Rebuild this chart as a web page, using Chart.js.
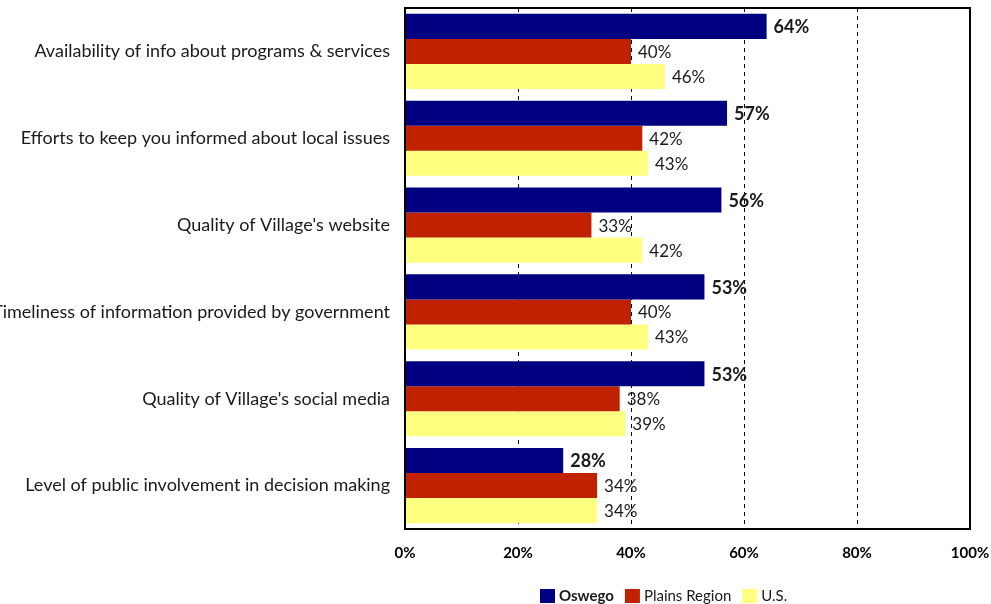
<html>
<head>
<meta charset="utf8">
<title>Communication ratings</title>
<script src="https://cdn.jsdelivr.net/npm/chart.js@4.4.0/dist/chart.umd.min.js"></script>
<style>
    body{margin:0;background:#fff}
    .box{width:991px;height:604px;position:relative}
</style>
</head>
<body>
<div class="box"><canvas id="RatingChart"></canvas></div>
<script>
var categories = [
    "Availability of info about programs & services",
    "Efforts to keep you informed about local issues",
    "Quality of Village's website",
    "Timeliness of information provided by government",
    "Quality of Village's social media",
    "Level of public involvement in decision making"
];
var oswego = [64, 57, 56, 53, 53, 28];
var plains = [40, 42, 33, 40, 38, 34];
var us = [46, 43, 42, 43, 39, 34];
var xTicks = [0, 20, 40, 60, 80, 100];

var FONT = "Lato";

// value labels at the end of each bar
var barLabels = {
    id: 'barLabels',
    afterDatasetsDraw: function(chart){
        var ctx = chart.ctx;
        ctx.save();
        chart.data.datasets.forEach(function(ds, i){
            var meta = chart.getDatasetMeta(i);
            meta.data.forEach(function(bar, j){
                ctx.font = (i == 0 ? "bold 18px " : "17px ") + FONT;
                ctx.fillStyle = "#1a1a1a";
                ctx.textAlign = "left";
                ctx.textBaseline = "middle";
                ctx.fillText(ds.data[j] + "%", bar.x + 7, bar.y + 1);
            });
        });
        ctx.restore();
    }
};

// frame round the plot + legend under the axis
var frameLegend = {
    id: 'frameLegend',
    afterDraw: function(chart){
        var ctx = chart.ctx;
        var a = chart.chartArea;
        ctx.save();
        ctx.strokeStyle = "#000";
        ctx.lineWidth = 2;
        ctx.strokeRect(a.left, a.top, a.right - a.left, a.bottom - a.top);

        var x = 540, y = 596;
        ctx.textBaseline = "middle";
        ctx.textAlign = "left";
        chart.data.datasets.forEach(function(ds, i){
            ctx.fillStyle = ds.backgroundColor;
            ctx.fillRect(x, y - 7, 15, 14);
            ctx.font = (i == 0 ? "bold 15px " : "15px ") + FONT;
            ctx.fillStyle = "#1a1a1a";
            ctx.fillText(ds.label, x + 19, y);
            x += 19 + ctx.measureText(ds.label).width + 11;
        });
        ctx.restore();
    }
};

window.onload = function(){
    new Chart(document.getElementById("RatingChart"), {
        type: 'bar',
        data: {
            labels: categories,
            datasets: [{
                label: "Oswego",
                data: oswego,
                backgroundColor: "#000080"
            },
            {
                label: "Plains Region",
                data: plains,
                backgroundColor: "#C02200"
            },
            {
                label: "U.S.",
                data: us,
                backgroundColor: "#FFFF80"
            }]
        },
        options: {
            indexAxis: 'y',
            responsive: true,
            maintainAspectRatio: false,
            animation: false,
            layout: {padding: {left: 0, right: 21, top: 8, bottom: 0}},
            datasets: {bar: {categoryPercentage: 0.865, barPercentage: 1}},
            plugins: {
                legend: {display: false},
                tooltip: {enabled: false}
            },
            scales: {
                x: {
                    min: 0,
                    max: 100,
                    afterFit: function(s){
                        s.height = 75;
                        s.paddingLeft = 0;
                        s.paddingRight = 0;
                    },
                    afterBuildTicks: function(s){
                        s.ticks = xTicks.map(function(v){ return {value: v}; });
                    },
                    border: {display: false, dash: [4, 4]},
                    grid: {
                        drawTicks: false,
                        lineWidth: 1,
                        color: function(c){
                            var v = c.tick ? c.tick.value : 0;
                            return (v == 0 || v == 100) ? "rgba(0,0,0,0)" : "#000";
                        }
                    },
                    ticks: {
                        padding: 15,
                        color: "#000",
                        font: {family: FONT, size: 15, weight: "bold"},
                        callback: function(v){ return v + "%"; }
                    }
                },
                y: {
                    afterFit: function(s){
                        s.width = 405;
                        s.paddingTop = 0;
                        s.paddingBottom = 0;
                    },
                    border: {display: false},
                    grid: {display: false, drawTicks: false},
                    ticks: {
                        autoSkip: false,
                        padding: 15,
                        color: "#1a1a1a",
                        font: {family: FONT, size: 18}
                    }
                }
            }
        },
        plugins: [barLabels, frameLegend]
    });
};
</script>
</body>
</html>
